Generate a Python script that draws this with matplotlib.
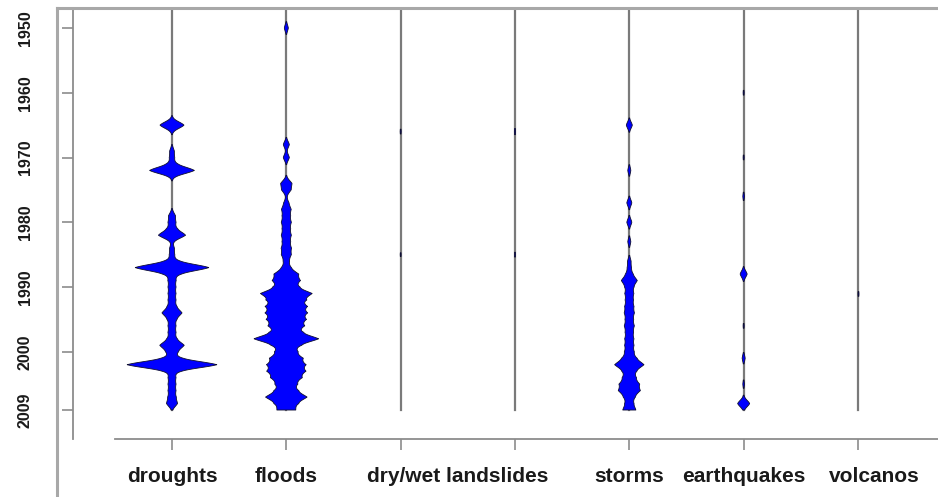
import numpy as np
import matplotlib.pyplot as plt

plt.rcParams['font.family'] = ['Liberation Sans', 'DejaVu Sans']

# categories on the x axis (dry and wet landslides share one label)
categories = ["droughts", "floods", "dry landslides", "wet landslides",
              "storms", "earthquakes", "volcanos"]
tick_labels = ["droughts", "floods", "", "", "storms", "earthquakes", ""]
year_ticks = [1950, 1960, 1970, 1980, 1990, 2000, 2009]

# bean size per year (relative units)
drought_years = [1965, 1969, 1970, 1971, 1972, 1979, 1980, 1981, 1982, 1984, 1985, 1986,
                 1987, 1988, 1989, 1990, 1991, 1992, 1993, 1994, 1995, 1996, 1997, 1998,
                 1999, 2000, 2001, 2002, 2003, 2004, 2005, 2006, 2007, 2008]
drought_size = [12, 2, 2, 2, 22, 3, 3, 3, 13, 2, 2, 2,
                36, 3, 3, 3, 3, 3, 3, 9, 3, 3, 3, 3,
                11, 4, 3, 44, 2, 3, 3, 3, 3, 5]

flood_years = [1950, 1968, 1970, 1974, 1975, 1977, 1978, 1979, 1980, 1981, 1982, 1983,
               1984, 1985, 1986, 1987, 1988, 1989, 1990, 1991, 1992, 1993, 1994, 1995,
               1996, 1997, 1998, 1999, 2000, 2001, 2002, 2003, 2004, 2005, 2006, 2007,
               2008, 2009]
flood_size = [2, 3, 3, 5, 4, 2, 4, 3, 4, 3, 4, 3,
              4, 4, 2, 3, 10, 11, 8, 22, 14, 16, 16, 15,
              14, 10, 29, 9, 8, 13, 15, 15, 12, 8, 8, 18,
              8, 8]

dry_slide_years = [1966, 1985]
dry_slide_size = [0.5, 0.45]

wet_slide_years = [1966, 1985]
wet_slide_size = [0.6, 0.5]

storm_years = [1965, 1972, 1977, 1980, 1983, 1986, 1987, 1988, 1989, 1990, 1991, 1992,
               1993, 1994, 1995, 1996, 1997, 1998, 1999, 2000, 2001, 2002, 2003, 2004,
               2005, 2006, 2007, 2008, 2009]
storm_size = [3, 1.5, 2.5, 2.5, 1.5, 1.5, 1.5, 2.5, 7, 3, 3.5, 3,
              3.5, 4, 3, 4, 3, 3.5, 3.5, 3.5, 5, 13, 4.5, 5,
              8, 9, 4, 3, 6]

quake_years = [1960, 1970, 1976, 1988, 1996, 2001, 2005, 2008]
quake_size = [0.5, 0.5, 0.8, 3.5, 0.5, 1.5, 0.8, 6]

volcano_years = [1991]
volcano_size = [0.5]

bean_years = [drought_years, flood_years, dry_slide_years, wet_slide_years,
              storm_years, quake_years, volcano_years]
bean_size = [drought_size, flood_size, dry_slide_size, wet_slide_size,
             storm_size, quake_size, volcano_size]

fig = plt.figure(figsize=(9.38, 4.97), dpi=100)
ax = fig.add_axes([57 / 938, 0, 1 - 57 / 938, 1 - 8 / 497])

y_top = 1950 + (8 - 28) / 6.475
y_bot = 1950 + (497 - 28) / 6.475
ax.set_xlim((57 - 172) / 114.33, (938 - 172) / 114.33)
ax.set_ylim(y_bot, y_top)

grid = np.linspace(y_top, 2009, 3000)
bw = 0.55
for i, (yrs, sz) in enumerate(zip(bean_years, bean_size)):
    ax.plot([i, i], [y_top, 2009], color='#7a7a7a', lw=1.6, zorder=1)
    yrs = np.array(yrs, dtype=float)
    sz = np.array(sz, dtype=float)
    d = grid[:, None] - yrs[None, :]
    k = 0.75 * np.exp(-d ** 2 / (2 * bw ** 2)) + 0.25 * np.exp(-np.abs(d) / 0.45)
    w = (sz[None, :] * k).sum(axis=1) / 114.33
    ax.fill_betweenx(grid, i - w, i + w, where=w > 0.35 / 114.33,
                     facecolor='#0000ff', edgecolor='#101030', lw=0.6, zorder=2)

# outer frame
fig.add_artist(plt.Line2D([57 / 938, 57 / 938], [0, 1 - 8 / 497],
                          transform=fig.transFigure, color='#a8a8a8', lw=2.2))
fig.add_artist(plt.Line2D([57 / 938, 1], [1 - 8 / 497, 1 - 8 / 497],
                          transform=fig.transFigure, color='#a8a8a8', lw=2.2))

for s in ['top', 'right']:
    ax.spines[s].set_visible(False)
axis_y = 1950 + (439 - 28) / 6.475
ax.spines['left'].set_position(('data', (73 - 172) / 114.33))
ax.spines['left'].set_bounds(y_top, axis_y)
ax.spines['bottom'].set_position(('data', axis_y))
ax.spines['bottom'].set_bounds(-0.5, 7)
for s in ['left', 'bottom']:
    ax.spines[s].set_color('#8c8c8c')
    ax.spines[s].set_linewidth(1.3)

ax.set_yticks(year_ticks)
ax.set_yticklabels([str(y) for y in year_ticks], rotation=90, va='center',
                   fontsize=11.5, fontweight='bold', color='#1a1a1a')
ax.tick_params(axis='y', direction='out', length=8, width=1.2, color='#8c8c8c', pad=21)

ax.set_xticks(range(len(categories)))
ax.set_xticklabels(tick_labels, fontsize=15, fontweight='bold', color='#1a1a1a')
ax.tick_params(axis='x', direction='out', length=8, width=1.2, color='#8c8c8c', pad=12)
ax.annotate("dry/wet landslides", xy=(2.5, axis_y), xycoords='data',
            xytext=(0, -20), textcoords='offset points', ha='center', va='top',
            fontsize=15, fontweight='bold', color='#1a1a1a')
ax.annotate("volcanos", xy=(6, axis_y), xycoords='data',
            xytext=(12, -20), textcoords='offset points', ha='center', va='top',
            fontsize=15, fontweight='bold', color='#1a1a1a')

fig.savefig('out.png', dpi=100, facecolor='white')
